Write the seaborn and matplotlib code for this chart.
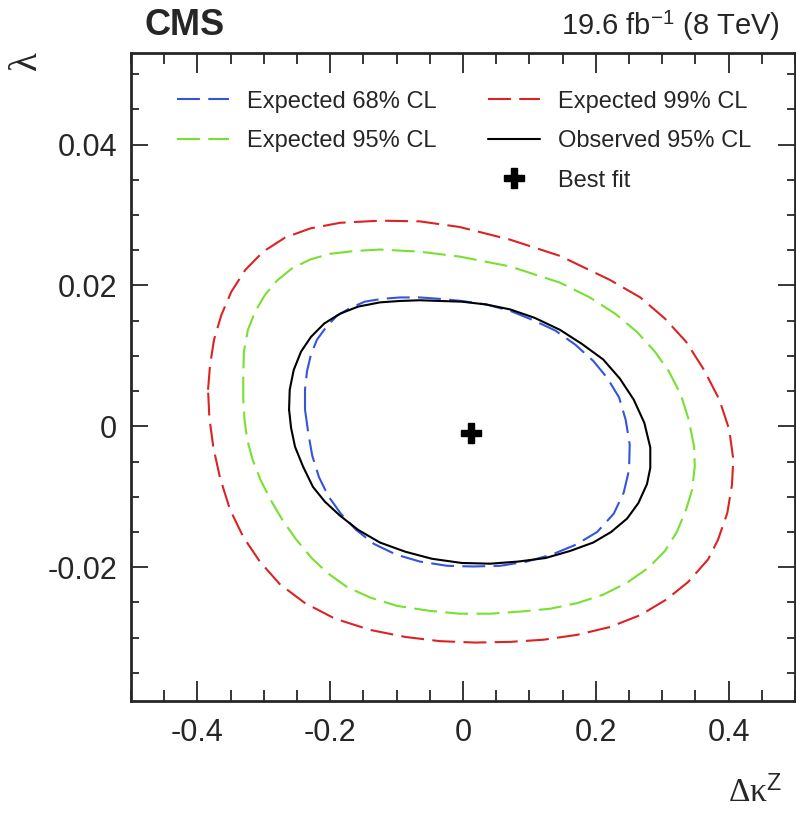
import numpy as np
import matplotlib
matplotlib.use("Agg")
import matplotlib.pyplot as plt
from matplotlib.lines import Line2D
from matplotlib.ticker import MultipleLocator, FuncFormatter
import seaborn as sns

# contour points (delta kappa^Z, lambda), closed loops
exp99_x = [-0.384, -0.381, -0.375, -0.364, -0.349, -0.328, -0.301, -0.268, -0.230, -0.185, -0.125, -0.065,
           -0.005, 0.071, 0.146, 0.221, 0.267, 0.304, 0.336, 0.363, 0.386, 0.401, 0.407, 0.405,
           0.398, 0.384, 0.369, 0.339, 0.306, 0.267, 0.221, 0.172, 0.121, 0.071, 0.018, -0.035,
           -0.087, -0.140, -0.193, -0.238, -0.276, -0.306, -0.331, -0.351, -0.366, -0.376, -0.382, -0.384]
exp99_y = [0.0052, 0.0087, 0.0123, 0.0158, 0.0191, 0.0222, 0.0248, 0.0268, 0.0281, 0.0289, 0.0292, 0.0291,
           0.0283, 0.0265, 0.0242, 0.0208, 0.0183, 0.0153, 0.0120, 0.0080, 0.0038, -0.0005, -0.0047, -0.0083,
           -0.0123, -0.0161, -0.0189, -0.0221, -0.0246, -0.0268, -0.0285, -0.0296, -0.0303, -0.0306, -0.0307, -0.0305,
           -0.0299, -0.0289, -0.0273, -0.0251, -0.0224, -0.0192, -0.0157, -0.0118, -0.0073, -0.0030, 0.0012, 0.0052]

exp95_x = [-0.331, -0.331, -0.330, -0.324, -0.313, -0.298, -0.280, -0.258, -0.230, -0.200, -0.163, -0.125,
           -0.065, -0.005, 0.071, 0.146, 0.191, 0.229, 0.262, 0.289, 0.310, 0.328, 0.340, 0.348,
           0.349, 0.345, 0.336, 0.322, 0.304, 0.279, 0.247, 0.211, 0.172, 0.131, 0.086, 0.041,
           -0.005, -0.050, -0.099, -0.140, -0.175, -0.203, -0.227, -0.251, -0.272, -0.290, -0.305, -0.317,
           -0.325, -0.329, -0.331]
exp95_y = [0.0038, 0.0073, 0.0106, 0.0137, 0.0163, 0.0187, 0.0207, 0.0224, 0.0237, 0.0245, 0.0249, 0.0251,
           0.0248, 0.0241, 0.0227, 0.0204, 0.0183, 0.0160, 0.0134, 0.0106, 0.0078, 0.0045, 0.0009, -0.0029,
           -0.0057, -0.0090, -0.0118, -0.0150, -0.0177, -0.0201, -0.0222, -0.0239, -0.0251, -0.0259, -0.0263, -0.0266,
           -0.0266, -0.0262, -0.0255, -0.0243, -0.0228, -0.0209, -0.0188, -0.0161, -0.0133, -0.0104, -0.0076, -0.0047,
           -0.0019, 0.0009, 0.0038]

exp68_x = [-0.238, -0.238, -0.235, -0.229, -0.220, -0.206, -0.190, -0.170, -0.148, -0.122, -0.095, -0.065,
           -0.035, -0.002, 0.035, 0.071, 0.105, 0.139, 0.169, 0.196, 0.217, 0.235, 0.245, 0.251,
           0.250, 0.242, 0.227, 0.202, 0.170, 0.134, 0.096, 0.056, 0.015, -0.024, -0.065, -0.101,
           -0.134, -0.161, -0.184, -0.203, -0.217, -0.227, -0.233, -0.238]
exp68_y = [0.0024, 0.0052, 0.0078, 0.0102, 0.0123, 0.0141, 0.0157, 0.0168, 0.0177, 0.0181, 0.0183, 0.0183,
           0.0181, 0.0178, 0.0173, 0.0164, 0.0151, 0.0136, 0.0116, 0.0093, 0.0069, 0.0041, 0.0009, -0.0026,
           -0.0062, -0.0094, -0.0124, -0.0150, -0.0168, -0.0182, -0.0192, -0.0198, -0.0199, -0.0198, -0.0192, -0.0182,
           -0.0167, -0.0147, -0.0124, -0.0099, -0.0072, -0.0042, -0.0010, 0.0024]

obs95_x = [-0.262, -0.261, -0.255, -0.244, -0.229, -0.209, -0.185, -0.158, -0.125, -0.095, -0.065, -0.035,
           -0.002, 0.035, 0.071, 0.108, 0.146, 0.179, 0.211, 0.236, 0.257, 0.273, 0.282, 0.282,
           0.277, 0.264, 0.247, 0.223, 0.196, 0.161, 0.124, 0.083, 0.041, -0.002, -0.047, -0.087,
           -0.125, -0.158, -0.185, -0.208, -0.226, -0.241, -0.253, -0.259, -0.262]
obs95_y = [0.0024, 0.0052, 0.0080, 0.0106, 0.0127, 0.0146, 0.0160, 0.0170, 0.0176, 0.0178, 0.0179, 0.0178,
           0.0177, 0.0173, 0.0166, 0.0154, 0.0137, 0.0117, 0.0095, 0.0068, 0.0038, 0.0005, -0.0030, -0.0059,
           -0.0082, -0.0109, -0.0131, -0.0150, -0.0165, -0.0177, -0.0187, -0.0192, -0.0195, -0.0194, -0.0188, -0.0178,
           -0.0165, -0.0147, -0.0127, -0.0107, -0.0086, -0.0057, -0.0029, -0.0002, 0.0024]

best_fit = (0.0116, -0.00095)

sns.set_style("ticks")
plt.rcParams['font.family'] = ['Liberation Sans', 'DejaVu Sans']
plt.rcParams['mathtext.fontset'] = 'custom'
plt.rcParams['mathtext.rm'] = 'Liberation Serif'
plt.rcParams['mathtext.it'] = 'Liberation Serif:italic'
plt.rcParams['mathtext.sf'] = 'Liberation Sans'
plt.rcParams['axes.unicode_minus'] = False

fig = plt.figure(figsize=(7.96, 8.16), dpi=100)
ax = fig.add_axes([0.1646, 0.1409, 0.8342, 0.7941])

dash = (0, (11, 4))
sns.lineplot(x=exp68_x, y=exp68_y, sort=False, estimator=None, color='#3355dd', lw=1.5, linestyle=dash, ax=ax)
sns.lineplot(x=exp95_x, y=exp95_y, sort=False, estimator=None, color='#77e030', lw=1.5, linestyle=dash, ax=ax)
sns.lineplot(x=exp99_x, y=exp99_y, sort=False, estimator=None, color='#dd2222', lw=1.5, linestyle=dash, ax=ax)
sns.lineplot(x=obs95_x, y=obs95_y, sort=False, estimator=None, color='black', lw=1.5, ax=ax)
ax.plot([best_fit[0]], [best_fit[1]], marker='P', color='black', ms=14, ls='none')

ax.set_xlim(-0.5, 0.5)
ax.set_ylim(-0.039, 0.053)
ax.xaxis.set_major_locator(MultipleLocator(0.2))
ax.xaxis.set_minor_locator(MultipleLocator(0.05))
ax.yaxis.set_major_locator(MultipleLocator(0.02))
ax.yaxis.set_minor_locator(MultipleLocator(0.005))
fmt = FuncFormatter(lambda v, p: '%g' % round(v, 6))
ax.xaxis.set_major_formatter(fmt)
ax.yaxis.set_major_formatter(fmt)
ax.tick_params(axis='both', which='both', direction='in', top=True, right=True, width=1.3, labelsize=22)
ax.tick_params(axis='x', which='major', length=14.4, pad=12)
ax.tick_params(axis='x', which='minor', length=8)
ax.tick_params(axis='y', which='major', length=12, pad=10)
ax.tick_params(axis='y', which='minor', length=5.5)
for s in ax.spines.values():
    s.set_linewidth(2)

ax.set_xlabel(r'$\mathrm{\Delta\kappa}^{\mathsf{Z}}$', fontsize=24, ha='right')
ax.xaxis.set_label_coords(0.98, -0.116)
ax.set_ylabel(r'$\mathrm{\lambda}$', fontsize=28)
ax.yaxis.set_label_coords(-0.13, 0.986)

handles = [
    Line2D([], [], color='#3355dd', lw=1.5, linestyle=dash),
    Line2D([], [], color='#77e030', lw=1.5, linestyle=dash),
    Line2D([], [], color='none'),
    Line2D([], [], color='#dd2222', lw=1.5, linestyle=dash),
    Line2D([], [], color='black', lw=1.5),
    Line2D([], [], marker='P', color='black', ms=14, ls='none'),
]
labels = ['Expected 68% CL', 'Expected 95% CL', '', 'Expected 99% CL', 'Observed 95% CL', 'Best fit']
ax.legend(handles, labels, ncol=2, loc='upper left', bbox_to_anchor=(0.069, 0.942), frameon=False,
          fontsize=17, handlelength=2.2, handletextpad=0.76, columnspacing=2.2, labelspacing=0.74,
          borderpad=0, borderaxespad=0)

fig.text(0.181, 0.969, 'CMS', fontsize=26, fontweight='bold', ha='left', va='center')
fig.text(0.98, 0.968, r'19.6 fb$^{\mathregular{-1}}$ (8 TeV)', fontsize=21, ha='right', va='center')

fig.savefig('out.png', dpi=100)
